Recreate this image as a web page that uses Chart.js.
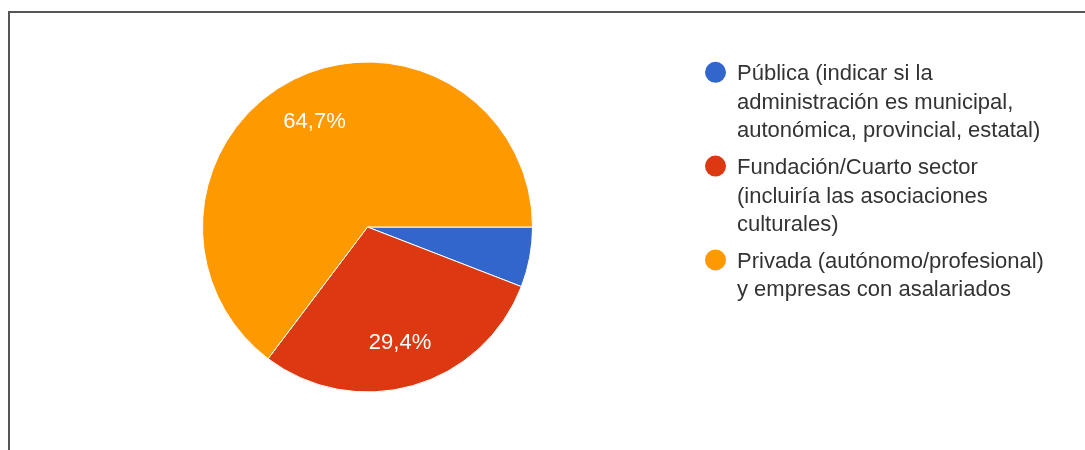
<!DOCTYPE html>
<html>
<head>
<meta charset="utf-8">
<script src="https://cdn.jsdelivr.net/npm/chart.js@4.4.1/dist/chart.umd.min.js"></script>
<style>
  html, body { margin: 0; padding: 0; background: #fff; }
  #wrap { position: relative; width: 1085px; height: 450px; overflow: hidden; }
  #frame { position: absolute; left: 8px; top: 11px; right: -5px; bottom: -5px; border-left: 2px solid #555; border-top: 2px solid #555; }
  canvas { position: absolute; left: 0; top: 0; }
</style>
</head>
<body>
<div id="wrap">
  <div id="frame"></div>
  <canvas id="c" width="1085" height="450"></canvas>
</div>
<script>
const categories = [
  ["Pública (indicar si la", "administración es municipal,", "autonómica, provincial, estatal)"],
  ["Fundación/Cuarto sector", "(incluiría las asociaciones", "culturales)"],
  ["Privada (autónomo/profesional)", "y empresas con asalariados"]
];
const responses = [1, 5, 11];
const colors = ["#3366cc", "#dc3912", "#ff9900"];

const FONT = "Arial, 'Liberation Sans', sans-serif";

const sliceLabels = {
  id: 'sliceLabels',
  afterDatasetsDraw(chart) {
    const ctx = chart.ctx;
    const meta = chart.getDatasetMeta(0);
    const data = chart.data.datasets[0].data;
    const total = data.reduce((a, b) => a + b, 0);
    ctx.save();
    ctx.fillStyle = '#fff';
    ctx.font = '22px ' + FONT;
    ctx.textAlign = 'center';
    ctx.textBaseline = 'middle';
    meta.data.forEach((arc, i) => {
      const pct = data[i] / total * 100;
      if (pct < 10) return;
      const mid = (arc.startAngle + arc.endAngle) / 2;
      const r = arc.outerRadius * 0.72;
      const x = arc.x + Math.cos(mid) * r;
      const y = arc.y + Math.sin(mid) * r + 1.5;
      ctx.fillText(pct.toFixed(1).replace('.', ',') + '%', x, y);
    });
    ctx.restore();
  }
};

const sideLegend = {
  id: 'sideLegend',
  afterDraw(chart) {
    const ctx = chart.ctx;
    const labels = chart.data.labels;
    const cols = chart.data.datasets[0].backgroundColor;
    ctx.save();
    ctx.font = '22px ' + FONT;
    ctx.textBaseline = 'alphabetic';
    ctx.textAlign = 'left';
    let y = 72.3;
    const lineH = 28.4;
    const gap = 8.6;
    labels.forEach((lines, i) => {
      ctx.fillStyle = cols[i];
      ctx.beginPath();
      ctx.arc(715.5, y, 10.5, 0, Math.PI * 2);
      ctx.fill();
      ctx.fillStyle = '#333';
      lines.forEach((t, j) => {
        ctx.fillText(t, 737, y + 8 + j * lineH);
      });
      y += lines.length * lineH + gap;
    });
    ctx.restore();
  }
};

new Chart(document.getElementById('c'), {
  type: 'pie',
  data: {
    labels: categories,
    datasets: [{
      data: responses,
      backgroundColor: colors,
      borderColor: '#ffffff',
      borderWidth: 1
    }]
  },
  options: {
    responsive: false,
    animation: false,
    rotation: 90,
    layout: { padding: { left: 202, right: 552, top: 61.5, bottom: 57.5 } },
    plugins: {
      legend: { display: false },
      tooltip: { enabled: false }
    }
  },
  plugins: [sliceLabels, sideLegend]
});
</script>
</body>
</html>
